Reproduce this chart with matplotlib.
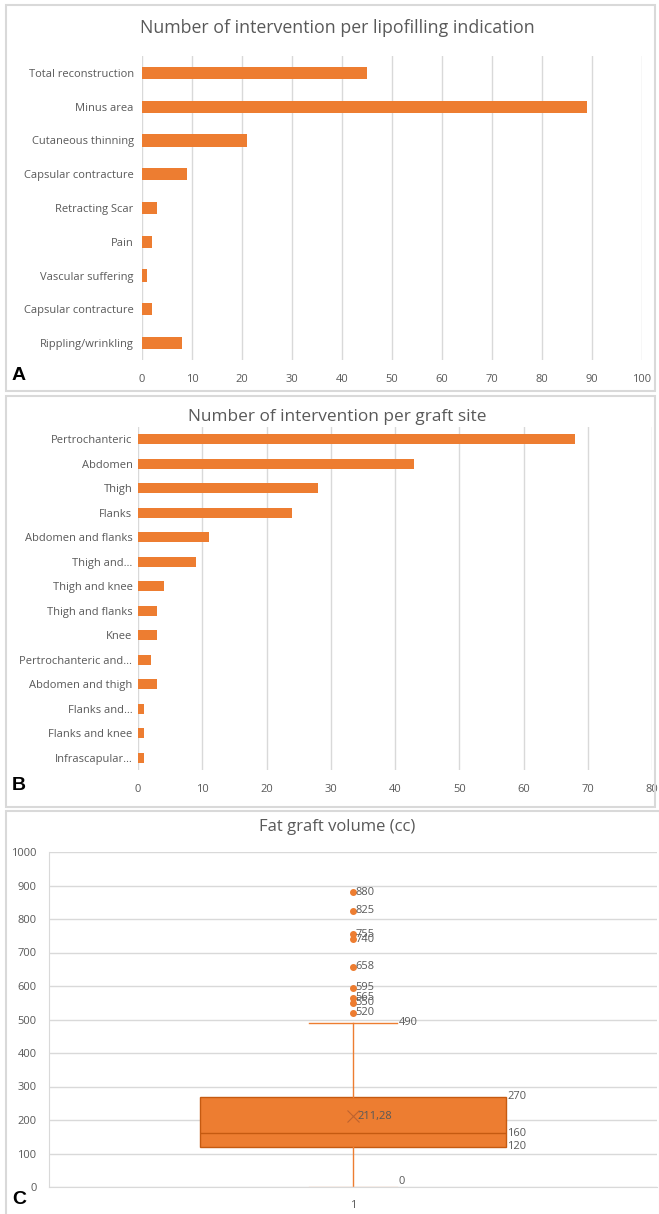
import matplotlib
matplotlib.use("Agg")
import matplotlib.pyplot as plt
from matplotlib.patches import Rectangle
import numpy as np

plt.rcParams['font.family'] = ['Open Sans', 'DejaVu Sans']

# ---------------- data ----------------
indications = ['Total reconstruction', 'Minus area', 'Cutaneous thinning',
               'Capsular contracture', 'Retracting Scar', 'Pain',
               'Vascular suffering', 'Capsular contracture', 'Rippling/wrinkling']
indication_counts = [45, 89, 21, 9, 3, 2, 1, 2, 8]

graft_sites = ['Pertrochanteric', 'Abdomen', 'Thigh', 'Flanks', 'Abdomen and flanks',
               'Thigh and\u2026', 'Thigh and knee', 'Thigh and flanks', 'Knee',
               'Pertrochanteric and\u2026', 'Abdomen and thigh', 'Flanks and\u2026',
               'Flanks and knee', 'Infrascapular\u2026']
site_counts = [68, 43, 28, 24, 11, 9, 4, 3, 3, 2, 3, 1, 1, 1]

vol_q1 = 120
vol_median = 160
vol_q3 = 270
vol_mean = 211.28
vol_whisker_low = 0
vol_whisker_high = 490
vol_outliers = [880, 825, 755, 740, 658, 595, 565, 550, 520]

# ---------------- style ----------------
W, H = 659, 1214
orange = '#ED7D31'
dark_orange = '#C55A11'
grid_c = '#D9D9D9'
text_c = '#595959'
label_size = 8
tick_size = 8

fig = plt.figure(figsize=(W / 100, H / 100), dpi=100)


def px_axes(l, t, r, b):
    return fig.add_axes([l / W, 1 - b / H, (r - l) / W, (b - t) / H])


def panel_box(l, t, r, b):
    fig.patches.append(Rectangle((l / W, 1 - b / H), (r - l) / W, (b - t) / H,
                                 transform=fig.transFigure, fill=False,
                                 edgecolor=grid_c, linewidth=1.5))


def fig_text(x, y, s, **kw):
    fig.text(x / W, 1 - y / H, s, **kw)


def style_barh(ax, xmax, step):
    ax.set_xlim(0, xmax)
    ax.set_xticks(np.arange(0, xmax + 1, step))
    ax.grid(axis='x', color=grid_c, linewidth=1)
    ax.set_axisbelow(True)
    for s in ax.spines.values():
        s.set_visible(False)
    ax.tick_params(length=0, colors=text_c, labelsize=tick_size)
    ax.tick_params(axis='x', pad=10)
    ax.tick_params(axis='y', pad=6)


# ---------------- panel A ----------------
panel_box(6, 5, 655, 391)
axA = px_axes(142, 56, 642, 360)
yA = np.arange(len(indications))
axA.barh(yA, indication_counts, height=0.36, color=orange)
axA.set_yticks(yA)
axA.set_yticklabels(indications)
axA.set_ylim(len(indications) - 0.5, -0.5)
style_barh(axA, 100, 10)
fig_text(337, 28, 'Number of intervention per lipofilling indication',
         ha='center', va='center', fontsize=12.8, color=text_c)
fig_text(12, 376, 'A', ha='left', va='center', fontsize=14, fontweight='bold',
         family=['Liberation Sans'], color='black')

# ---------------- panel B ----------------
panel_box(6, 396, 655, 807)
axB = px_axes(138, 427, 652, 770)
yB = np.arange(len(graft_sites))
axB.barh(yB, site_counts, height=0.42, color=orange)
axB.set_yticks(yB)
axB.set_yticklabels(graft_sites)
axB.set_ylim(len(graft_sites) - 0.5, -0.5)
style_barh(axB, 80, 10)
axB.tick_params(axis='y', pad=4)
fig_text(337, 417, 'Number of intervention per graft site',
         ha='center', va='center', fontsize=12.4, color=text_c)
fig_text(12, 785, 'B', ha='left', va='center', fontsize=14, fontweight='bold',
         family=['Liberation Sans'], color='black')

# ---------------- panel C ----------------
panel_box(6, 811, 660, 1220)
axC = px_axes(49, 852, 657, 1187)
stats = [dict(med=vol_median, q1=vol_q1, q3=vol_q3, mean=vol_mean,
              whislo=vol_whisker_low, whishi=vol_whisker_high,
              fliers=vol_outliers, label='1')]
bp = axC.bxp(stats, positions=[1], widths=0.502, capwidths=0.145,
             showmeans=True, patch_artist=True,
             boxprops=dict(facecolor=orange, edgecolor=dark_orange, linewidth=1),
             medianprops=dict(color=dark_orange, linewidth=1),
             whiskerprops=dict(color=orange, linewidth=1),
             capprops=dict(color=orange, linewidth=1),
             meanprops=dict(marker='x', markeredgecolor='#A0522D', markersize=8,
                            markeredgewidth=0.8, alpha=0.6),
             flierprops=dict(marker='o', markerfacecolor=orange,
                             markeredgecolor=orange, markersize=4))
bp['caps'][0].set_color('#F8CBAD')
axC.set_xlim(0.5, 1.5)
axC.set_ylim(0, 1000)
axC.set_yticks(np.arange(0, 1001, 100))
axC.grid(axis='y', color=grid_c, linewidth=1)
axC.set_axisbelow(True)
for name, s in axC.spines.items():
    if name in ('top', 'right'):
        s.set_visible(False)
    else:
        s.set_color(grid_c)
axC.tick_params(length=0, colors=text_c, labelsize=tick_size)
axC.tick_params(axis='x', pad=9)
axC.tick_params(axis='y', pad=9)

lab = dict(fontsize=label_size, color=text_c, va='center')
for v in vol_outliers:
    axC.annotate(str(v), (1, v), xytext=(2, 0), textcoords='offset points',
                 ha='left', **lab)
cap_r = 1 + 0.145 / 2
box_r = 1 + 0.502 / 2
axC.annotate(str(vol_whisker_high), (cap_r, vol_whisker_high), xytext=(1, 0),
             textcoords='offset points', ha='left', **lab)
axC.annotate(str(vol_whisker_low), (cap_r, vol_whisker_low), xytext=(1, 4),
             textcoords='offset points', ha='left', **lab)
for v in (vol_q3, vol_median, vol_q1):
    axC.annotate(str(v), (box_r, v), xytext=(1, 0),
                 textcoords='offset points', ha='left', **lab)
axC.annotate(f'{vol_mean:.2f}'.replace('.', ','), (1, vol_mean), xytext=(3, 0),
             textcoords='offset points', ha='left', **lab)

fig_text(337, 827, 'Fat graft volume (cc)', ha='center', va='center',
         fontsize=12, color=text_c)
fig_text(12, 1200, 'C', ha='left', va='center', fontsize=14, fontweight='bold',
         family=['Liberation Sans'], color='black')

fig.savefig('out.png', dpi=100)
